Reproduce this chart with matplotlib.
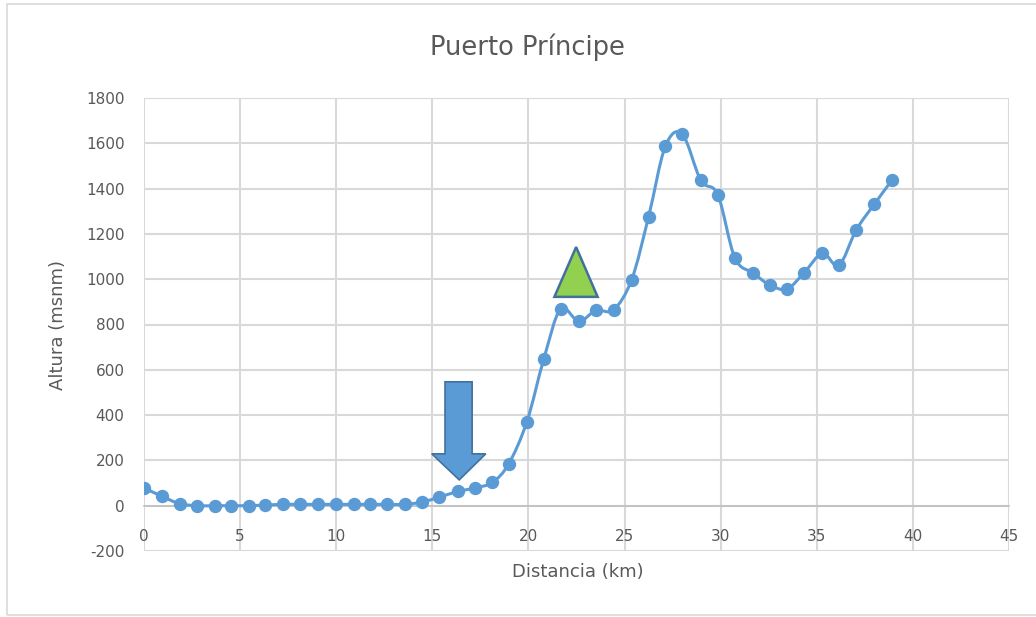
import matplotlib
matplotlib.use("Agg")
import matplotlib.pyplot as plt
from matplotlib.path import Path
from matplotlib.patches import PathPatch, Polygon, Rectangle
import numpy as np

plt.rcParams["axes.unicode_minus"] = False

# ---- data ----
distancia_km = [0.0, 0.95, 1.85, 2.77, 3.68, 4.54, 5.44, 6.32, 7.24, 8.14,
                9.06, 10.0, 10.9, 11.77, 12.65, 13.57, 14.47, 15.37, 16.33, 17.2,
                18.12, 18.97, 19.92, 20.8, 21.67, 22.62, 23.51, 24.43, 25.37, 26.25,
                27.12, 28.0, 28.97, 29.85, 30.74, 31.7, 32.58, 33.45, 34.33, 35.29,
                36.15, 37.05, 38.0, 38.9]
altura_msnm = [78, 41, 9, 0, 0, 0, 0, 3, 6, 6,
               6, 6, 6, 6, 6, 6, 16, 38, 63, 78,
               103, 184, 371, 648, 868, 814, 862, 865, 998, 1276,
               1586, 1641, 1436, 1373, 1094, 1027, 973, 957, 1027, 1114,
               1061, 1217, 1332, 1436]
x_ticks = [0, 5, 10, 15, 20, 25, 30, 35, 40, 45]
y_ticks = [-200, 0, 200, 400, 600, 800, 1000, 1200, 1400, 1600, 1800]
title = "Puerto Príncipe"
x_label = "Distancia (km)"
y_label = "Altura (msnm)"

# annotation shapes (data coords)
arrow_shape = [(15.66, 547), (17.07, 547), (17.07, 229), (17.78, 229),
               (16.4, 114), (14.97, 229), (15.66, 229)]
triangle_shape = [(22.48, 1142), (23.6, 922), (21.35, 922)]

LINE = "#5B9BD5"
TXT = "#595959"
GRID = "#D9D9D9"

W, H = 1036, 617
fig = plt.figure(figsize=(W / 100, H / 100), dpi=100)
fig.patch.set_facecolor("white")

# outer chart frame (right side runs off the image)
fig.add_artist(Rectangle((7 / W, 1 - 615 / H), (W + 10) / W, (615 - 4) / H,
                         transform=fig.transFigure, fill=False,
                         edgecolor=GRID, lw=1.2))

ax = fig.add_axes([144 / W, 1 - 551 / H, (1009 - 144) / W, (551 - 98) / H])
ax.set_xlim(0, 45)
ax.set_ylim(-200, 1800)
ax.set_xticks(x_ticks)
ax.set_yticks(y_ticks)
ax.grid(True, color=GRID, lw=1.5)
ax.set_axisbelow(True)
for s in ["top", "right", "left"]:
    ax.spines[s].set_visible(False)
ax.spines["bottom"].set_position(("data", 0))
ax.spines["bottom"].set_color("#BFBFBF")
ax.spines["bottom"].set_linewidth(1.2)
ax.tick_params(axis="both", length=0, labelsize=11, labelcolor=TXT)
ax.tick_params(axis="x", pad=16.5)
ax.tick_params(axis="y", pad=14)

# smoothed line (Catmull-Rom style Bezier through the data points)
x = np.array(distancia_km, dtype=float)
y = np.array(altura_msnm, dtype=float)
verts = [(x[0], y[0])]
codes = [Path.MOVETO]
n = len(x)
for i in range(n - 1):
    p0 = np.array([x[max(i - 1, 0)], y[max(i - 1, 0)]])
    p1 = np.array([x[i], y[i]])
    p2 = np.array([x[i + 1], y[i + 1]])
    p3 = np.array([x[min(i + 2, n - 1)], y[min(i + 2, n - 1)]])
    c1 = p1 + (p2 - p0) / 6.0
    c2 = p2 - (p3 - p1) / 6.0
    verts += [tuple(c1), tuple(c2), tuple(p2)]
    codes += [Path.CURVE4] * 3
ax.add_patch(PathPatch(Path(verts, codes), fill=False, edgecolor=LINE,
                       lw=2.2, zorder=3, capstyle="round", joinstyle="round"))
ax.plot(x, y, linestyle="none", marker="o", markersize=8.6, color=LINE, zorder=4)

# shapes
ax.add_patch(Polygon(arrow_shape, closed=True, facecolor=LINE,
                     edgecolor="#41719C", lw=1.2, zorder=5))
ax.add_patch(Polygon(triangle_shape, closed=True, facecolor="#92D050",
                     edgecolor="#41719C", lw=1.8, zorder=5))

fig.text(527 / W, 1 - 47 / H, title, ha="center", va="center",
         fontsize=18.5, color=TXT)
fig.text(578 / W, 1 - 572 / H, x_label, ha="center", va="center",
         fontsize=13, color=TXT)
fig.text(58 / W, 1 - 325 / H, y_label, ha="center", va="center",
         rotation=90, fontsize=13, color=TXT)

fig.savefig("out.png", dpi=100)
